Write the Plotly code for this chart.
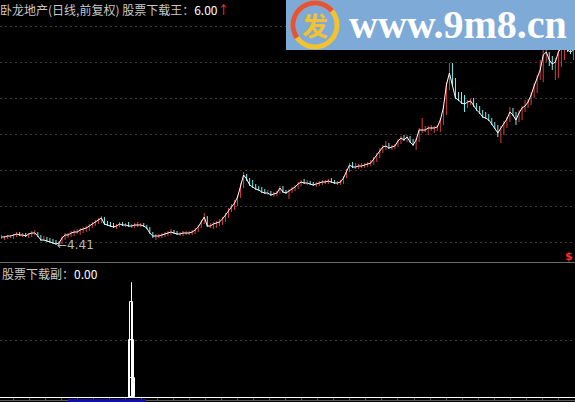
import math
import plotly.graph_objects as go

# ---------------- data ----------------
close = [
    4.49, 4.49, 4.50, 4.50, 4.51, 4.52, 4.51, 4.51, 4.50, 4.52,
    4.53, 4.53, 4.50, 4.46, 4.46, 4.45, 4.44, 4.43, 4.42, 4.43,
    4.48, 4.51, 4.51, 4.53, 4.54, 4.54, 4.56, 4.57, 4.58, 4.60,
    4.62, 4.64, 4.66, 4.68, 4.62, 4.61, 4.60, 4.59, 4.60, 4.62,
    4.61, 4.61, 4.60, 4.60, 4.61, 4.61, 4.61, 4.60, 4.58, 4.53,
    4.50, 4.50, 4.50, 4.51, 4.52, 4.53, 4.54, 4.53, 4.52, 4.52,
    4.53, 4.53, 4.53, 4.54, 4.56, 4.59, 4.64, 4.69, 4.60, 4.60,
    4.62, 4.63, 4.64, 4.67, 4.71, 4.76, 4.80, 4.83, 4.89, 5.01,
    5.11, 5.07, 5.01, 4.99, 4.97, 4.96, 4.94, 4.93, 4.93, 4.91,
    4.92, 4.93, 4.98, 4.94, 4.93, 4.95, 4.97, 4.99, 5.02, 5.04,
    5.03, 5.03, 5.02, 5.01, 5.02, 5.03, 5.04, 5.04, 5.05, 5.04,
    5.03, 5.03, 5.04, 5.08, 5.15, 5.21, 5.19, 5.19, 5.20, 5.20,
    5.21, 5.22, 5.23, 5.27, 5.31, 5.36, 5.39, 5.40, 5.38, 5.39,
    5.40, 5.45, 5.48, 5.46, 5.49, 5.44, 5.41, 5.46, 5.56, 5.56,
    5.56, 5.58, 5.58, 5.58, 5.59, 5.66, 5.78, 6.01, 6.13, 6.01,
    5.88, 5.86, 5.83, 5.82, 5.84, 5.85, 5.80, 5.76, 5.73, 5.69,
    5.68, 5.66, 5.62, 5.58, 5.53, 5.58, 5.63, 5.67, 5.74, 5.71,
    5.66, 5.73, 5.78, 5.80, 5.84, 5.91, 6.00, 6.08, 6.16, 6.31,
    6.34, 6.26, 6.22, 6.24, 6.34, 6.38, 6.41, 6.36, 6.34, 6.36,
]
high = [
    4.51, 4.50, 4.51, 4.51, 4.52, 4.54, 4.54, 4.53, 4.53, 4.53,
    4.55, 4.56, 4.54, 4.51, 4.50, 4.49, 4.48, 4.47, 4.46, 4.45,
    4.50, 4.53, 4.53, 4.55, 4.56, 4.57, 4.58, 4.59, 4.60, 4.62,
    4.64, 4.66, 4.68, 4.70, 4.69, 4.65, 4.64, 4.63, 4.62, 4.64,
    4.64, 4.63, 4.64, 4.62, 4.63, 4.64, 4.63, 4.63, 4.61, 4.59,
    4.54, 4.52, 4.52, 4.53, 4.54, 4.55, 4.57, 4.56, 4.55, 4.54,
    4.55, 4.55, 4.55, 4.56, 4.58, 4.61, 4.66, 4.73, 4.70, 4.63,
    4.64, 4.65, 4.67, 4.69, 4.73, 4.78, 4.82, 4.86, 4.91, 5.03,
    5.14, 5.12, 5.08, 5.06, 5.02, 5.00, 4.99, 4.97, 4.96, 4.95,
    4.94, 4.95, 5.00, 5.00, 4.96, 4.97, 4.99, 5.01, 5.04, 5.06,
    5.07, 5.06, 5.05, 5.04, 5.04, 5.05, 5.06, 5.06, 5.07, 5.08,
    5.06, 5.05, 5.06, 5.10, 5.17, 5.23, 5.24, 5.23, 5.22, 5.23,
    5.23, 5.24, 5.26, 5.29, 5.33, 5.38, 5.41, 5.45, 5.43, 5.41,
    5.42, 5.47, 5.50, 5.51, 5.51, 5.50, 5.47, 5.48, 5.58, 5.68,
    5.60, 5.60, 5.61, 5.60, 5.61, 5.68, 5.81, 6.04, 6.23, 6.23,
    6.08, 5.94, 5.94, 5.91, 5.86, 5.87, 5.88, 5.83, 5.80, 5.76,
    5.74, 5.72, 5.68, 5.64, 5.61, 5.60, 5.65, 5.69, 5.79, 5.78,
    5.74, 5.76, 5.80, 5.86, 5.87, 5.94, 6.03, 6.11, 6.26, 6.36,
    6.38, 6.34, 6.30, 6.28, 6.37, 6.41, 6.44, 6.43, 6.41, 6.39,
]
low = [
    4.47, 4.46, 4.47, 4.48, 4.47, 4.49, 4.50, 4.49, 4.49, 4.48,
    4.49, 4.51, 4.49, 4.45, 4.45, 4.44, 4.43, 4.42, 4.41, 4.42,
    4.42, 4.46, 4.48, 4.49, 4.50, 4.52, 4.51, 4.53, 4.54, 4.55,
    4.58, 4.60, 4.62, 4.63, 4.61, 4.60, 4.59, 4.58, 4.57, 4.59,
    4.60, 4.59, 4.59, 4.58, 4.58, 4.59, 4.59, 4.59, 4.57, 4.52,
    4.48, 4.46, 4.48, 4.48, 4.49, 4.50, 4.51, 4.52, 4.51, 4.50,
    4.50, 4.51, 4.51, 4.51, 4.52, 4.54, 4.58, 4.62, 4.59, 4.58,
    4.57, 4.58, 4.60, 4.61, 4.64, 4.68, 4.74, 4.76, 4.80, 4.88,
    4.98, 5.05, 5.00, 4.98, 4.96, 4.95, 4.93, 4.92, 4.91, 4.90,
    4.89, 4.90, 4.92, 4.93, 4.92, 4.87, 4.93, 4.95, 4.97, 5.00,
    5.02, 5.01, 5.01, 5.00, 4.99, 5.00, 5.01, 5.02, 5.02, 5.03,
    5.02, 5.01, 5.01, 5.02, 5.08, 5.14, 5.18, 5.17, 5.17, 5.18,
    5.18, 5.19, 5.20, 5.21, 5.24, 5.28, 5.33, 5.36, 5.37, 5.36,
    5.37, 5.39, 5.42, 5.45, 5.44, 5.43, 5.40, 5.36, 5.44, 5.53,
    5.54, 5.51, 5.55, 5.53, 5.55, 5.54, 5.61, 5.71, 5.96, 6.00,
    5.87, 5.85, 5.82, 5.74, 5.78, 5.81, 5.79, 5.75, 5.72, 5.68,
    5.67, 5.65, 5.61, 5.57, 5.49, 5.43, 5.51, 5.58, 5.64, 5.70,
    5.61, 5.64, 5.66, 5.74, 5.78, 5.81, 5.88, 5.93, 6.06, 6.04,
    6.24, 6.20, 6.16, 6.06, 6.08, 6.19, 6.26, 6.34, 6.32, 6.26,
]
low_idx = 18                      # bar carrying the lowest low
low_label = "4.41"

# lower indicator (股票下载副): zero everywhere except one signal bar
fu_series = [0] * 43 + [6] + [0] * 146
fu_steps = [5, 3, 1]              # stepped outline levels under the signal

main_name = "卧龙地产(日线,前复权) 股票下载王"
main_value = "6.00"
sub_name = "股票下载副"
sub_value = "0.00"
watermark = "www.9m8.cn"

# ---------------- figure ----------------
W, H = 575, 402
n = len(close)
RED = "#e23a3a"
CYAN = "#78f2f2"
GRID = "#3e3e3e"
DOTS = "2px,3px"


def px_x(p):
    return p / W


def px_y(p):
    return 1 - p / H


fig = go.Figure()

# high-low sticks, coloured by direction
rx, ry, cx, cy = [], [], [], []
for i in range(n):
    up = i == 0 or close[i] >= close[i - 1]
    xs, ys = (rx, ry) if up else (cx, cy)
    xs += [i, i, None]
    ys += [low[i], high[i], None]

fig.add_trace(go.Scatter(x=rx, y=ry, mode="lines", line=dict(color=RED, width=1),
                         hoverinfo="skip", xaxis="x", yaxis="y"))
fig.add_trace(go.Scatter(x=cx, y=cy, mode="lines", line=dict(color=CYAN, width=1),
                         hoverinfo="skip", xaxis="x", yaxis="y"))
fig.add_trace(go.Scatter(x=list(range(n)), y=close, mode="lines",
                         line=dict(color="white", width=1), xaxis="x", yaxis="y"))

# lower panel signal: tall thin bar plus stepped outlines
sig = max(range(n), key=lambda k: fu_series[k])
fig.add_trace(go.Bar(x=[sig], y=[fu_series[sig]], width=0.08,
                     marker=dict(color="black", line=dict(color="white", width=1)),
                     xaxis="x2", yaxis="y2"))
for lvl, wd in zip(fu_steps, [0.8, 1.45, 2.0]):
    fig.add_trace(go.Bar(x=[sig], y=[lvl], width=wd,
                         marker=dict(color="rgba(0,0,0,0)", line=dict(color="white", width=1)),
                         xaxis="x2", yaxis="y2"))

split = 140 / H
fig.update_layout(
    width=W, height=H, margin=dict(l=0, r=0, t=0, b=0),
    paper_bgcolor="black", plot_bgcolor="black", showlegend=False,
    barmode="overlay", bargap=0,
    xaxis=dict(domain=[0, 1], range=[-0.5, n - 0.5], anchor="y",
               showgrid=False, zeroline=False, showticklabels=False, ticks="",
               showline=True, linecolor="#6a6a6a", linewidth=1),
    yaxis=dict(domain=[split, 1], range=[4.24, 6.86], tick0=4.44, dtick=0.36,
               showgrid=True, gridcolor=GRID, griddash=DOTS, gridwidth=1,
               zeroline=False, showticklabels=False, ticks=""),
    xaxis2=dict(domain=[0, 1], range=[-0.5, n - 0.5], anchor="y2", matches="x",
                showgrid=False, zeroline=False, showticklabels=False,
                ticks="inside", ticklen=2, tickcolor="#5a5a5a", tick0=51.5, dtick=5.3,
                showline=True, linecolor="#5a5a5a", linewidth=1),
    yaxis2=dict(domain=[2 / H, split], range=[-0.158, 7.105], tick0=3, dtick=20,
                showgrid=True, gridcolor=GRID, griddash=DOTS, gridwidth=1,
                zeroline=True, zerolinecolor="white", zerolinewidth=1,
                showticklabels=False, ticks=""),
    font=dict(family="Noto Sans CJK SC", size=12, color="#c8c8c8"),
)

# watermark box, logo and bottom scroll marker
ring_cx, ring_cy, ring_r = 315, 25, 22
shapes = [
    dict(type="rect", xref="paper", yref="paper", x0=px_x(68), x1=px_x(146),
         y0=0, y1=px_y(399), fillcolor="#1010a8", line=dict(width=0), layer="above"),
    dict(type="rect", xref="paper", yref="paper", x0=px_x(286), x1=1,
         y0=px_y(50), y1=1, fillcolor="#7eaad8", line=dict(width=0), layer="above"),
    dict(type="circle", xref="paper", yref="paper",
         x0=px_x(ring_cx - ring_r), x1=px_x(ring_cx + ring_r),
         y0=px_y(ring_cy + ring_r), y1=px_y(ring_cy - ring_r),
         line=dict(color="#f2c230", width=5), layer="above"),
]
pts = []
for k in range(0, 31):
    a = math.radians(215 - k * (215 - 40) / 30)
    pts.append((px_x(ring_cx + ring_r * math.cos(a)), px_y(ring_cy - ring_r * math.sin(a))))
path = "M " + " L ".join(f"{x:.5f},{y:.5f}" for x, y in pts)
shapes.append(dict(type="path", xref="paper", yref="paper", path=path,
                   line=dict(color="#e2553c", width=5), layer="above"))
fig.update_layout(shapes=shapes)

ann = [
    dict(xref="paper", yref="paper", x=px_x(-2), y=1, xanchor="left", yanchor="top",
         showarrow=False, yshift=1,
         text=(f'<span style="color:#c8c8c8">{main_name}：</span>'
               f'<span style="color:#ffffff">{main_value}</span>'
               f'<span style="color:#ff3b3b">↑</span>'),
         font=dict(size=12)),
    dict(xref="paper", yref="paper", x=0, y=px_y(263), xanchor="left", yanchor="top",
         showarrow=False,
         text=(f'<span style="color:#c8c8c8">{sub_name}：</span>'
               f'<span style="color:#ffffff">{sub_value}</span>'),
         font=dict(size=12)),
    dict(xref="x", yref="y", x=low_idx, y=low[low_idx], xanchor="left", yanchor="middle",
         showarrow=False, text="←" + low_label, xshift=-1,
         font=dict(size=12, color="#b8b8b8", family="DejaVu Sans")),
    dict(xref="paper", yref="paper", x=px_x(569), y=px_y(256), xanchor="center",
         yanchor="middle", showarrow=False, text="<b>$</b>",
         font=dict(size=11, color="#ff2a2a", family="DejaVu Sans")),
    dict(xref="paper", yref="paper", x=px_x(458), y=px_y(25), xanchor="center",
         yanchor="middle", showarrow=False, text=f"<b>{watermark}</b>",
         font=dict(size=40, color="white", family="Liberation Serif")),
    dict(xref="paper", yref="paper", x=px_x(ring_cx), y=px_y(ring_cy), xanchor="center",
         yanchor="middle", showarrow=False, text="<b>发</b>",
         font=dict(size=26, color="#f2c230", family="Noto Sans CJK SC")),
]
fig.update_layout(annotations=ann)

fig.write_html("out.html")
